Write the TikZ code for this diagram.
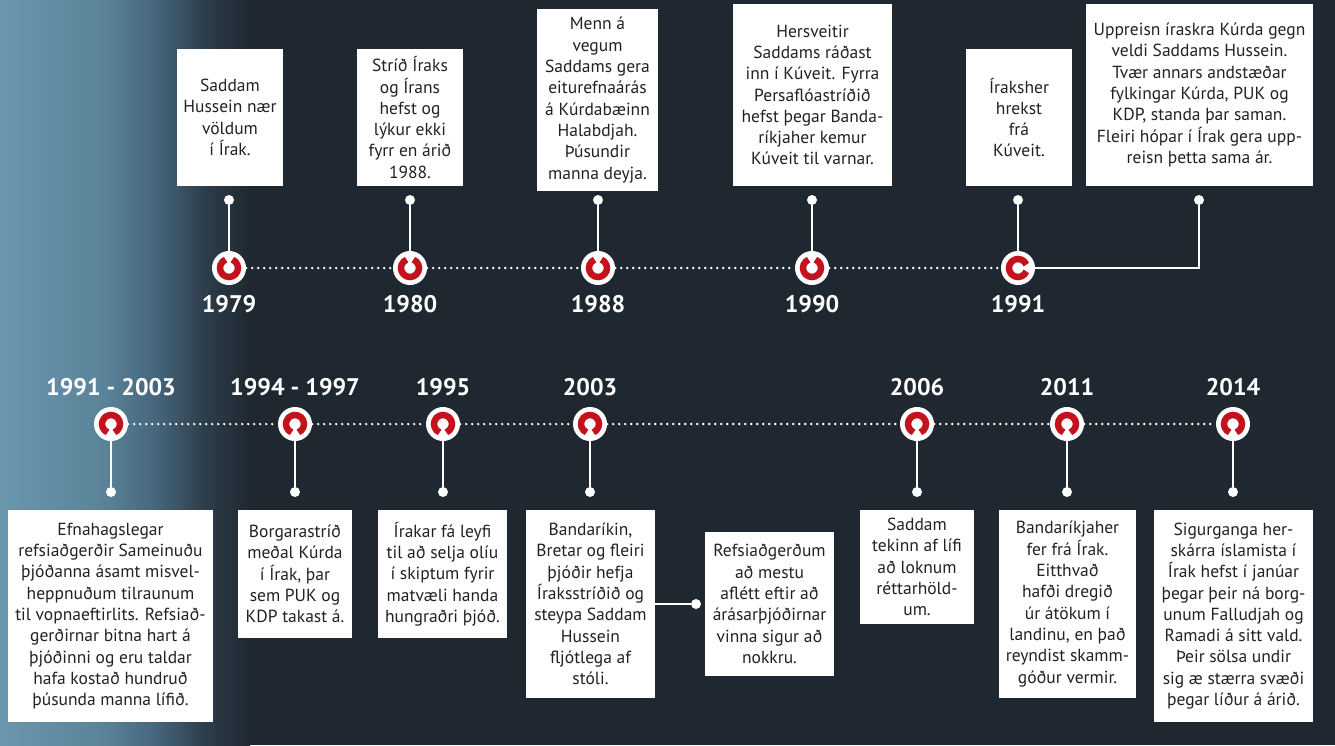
\documentclass[tikz,border=0pt]{standalone}
\usepackage{fontspec}
\setmainfont{PT Sans}
\usetikzlibrary{positioning}
\definecolor{bgnavy}{HTML}{1F2830}
\definecolor{glowblue}{HTML}{6A96AE}
\definecolor{glowtwo}{HTML}{5A8399}
\definecolor{glowmid}{HTML}{46667C}
\definecolor{glowdeep}{HTML}{2D3D4A}
\definecolor{ringred}{HTML}{C3111E}
\definecolor{boxtext}{HTML}{222222}
\pgfdeclarehorizontalshading{leftglow}{100bp}{color(0bp)=(glowblue); color(25bp)=(glowblue);
  color(46bp)=(glowtwo); color(56bp)=(glowmid); color(66bp)=(glowdeep);
  color(75bp)=(bgnavy); color(100bp)=(bgnavy)}
\tikzset{
  eventbox/.style={fill=white, text=boxtext, align=center, inner sep=2pt,
    font=\fontsize{17.5}{21.3}\selectfont},
  yearlabel/.style={text=white, font=\bfseries\fontsize{24}{26}\selectfont},
  knob/.style={circle, fill=white, minimum size=34pt, inner sep=0pt},
  stemdot/.style={circle, fill=white, minimum size=10pt, inner sep=0pt},
  stem/.style={white, line width=2.6pt},
  dotline/.style={white, line width=2.6pt, line cap=round, dash pattern=on 0pt off 6pt},
  redring/.style={ringred, line width=6.5pt}
}

\begin{document}
\begin{tikzpicture}[x=1pt,y=-1pt]
\fill[bgnavy] (0,0) rectangle (1335,745);
\shade[shading=leftglow] (0,0) rectangle (250,745);
\useasboundingbox (0,0) rectangle (1335,745);

% upper timeline
\foreach \nm/\xx in {m1979/229, m1980/410, m1988/598, m1990/812, m1991/1018}
  \node[knob] (\nm) at (\xx,268) {};
\foreach \a/\b in {m1979/m1980, m1980/m1988, m1988/m1990, m1990/m1991}
  \draw[dotline] (\a) -- (\b);
\foreach \nm/\xx in {1979/229, 1980/410, 1988/598, 1990/812, 1991/1018}{
  \node[stemdot] (p\nm) at (\xx,200) {};
  \draw[stem] (m\nm.center) -- (p\nm);
  \node[yearlabel] (y\nm) at (\xx,304) {\nm};
}
\node[stemdot] (p1991b) at (1199,200) {};
\draw[stem] (p1991b) |- (m1991.center);
\foreach \nm/\g in {m1979/270, m1980/270, m1988/270, m1990/270, m1991/0}
  \draw[redring] ([shift={(\g+22:9)}]\nm.center) arc[start angle=\g+22, end angle=\g+338, radius=9];

\node[eventbox, minimum width=106pt, minimum height=137pt] (b1979) at (230,117.5)
  {Saddam\\Hussein nær\\völdum\\í Írak.};
\node[eventbox, minimum width=106pt, minimum height=137pt] (b1980) at (410,117.5)
  {Stríð Íraks\\og Írans\\hefst og\\lýkur ekki\\fyrr en árið\\1988.};
\node[eventbox, minimum width=121pt, minimum height=182pt] (b1988) at (597.5,100)
  {Menn á\\vegum\\Saddams gera\\eiturefnaárás\\á Kúrdabæinn\\Halabdjah.\\Þúsundir\\manna deyja.};
\node[eventbox, minimum width=159pt, minimum height=182pt] (b1990) at (812.5,95)
  {Hersveitir\\Saddams ráðast\\inn í Kúveit. Fyrra\\Persaflóastríðið\\hefst þegar Banda-\\ríkjaher kemur\\Kúveit til varnar.};
\node[eventbox, minimum width=106pt, minimum height=137pt] (b1991) at (1019,117.5)
  {Íraksher\\hrekst\\frá\\Kúveit.};
\node[eventbox, minimum width=227pt, minimum height=182pt] (b1991b) at (1199.5,95)
  {Uppreisn íraskra Kúrda gegn\\veldi Saddams Hussein.\\Tvær annars andstæðar\\fylkingar Kúrda, PUK og\\KDP, standa þar saman.\\Fleiri hópar í Írak gera upp-\\reisn þetta sama ár.};

% lower timeline
\foreach \nm/\xx in {n1991/111, n1994/295, n1995/443, n2003/590, n2006/917, n2011/1067, n2014/1233}
  \node[knob] (\nm) at (\xx,424) {};
\foreach \a/\b in {n1991/n1994, n1994/n1995, n1995/n2003, n2003/n2006, n2006/n2011, n2011/n2014}
  \draw[dotline] (\a) -- (\b);
\foreach \nm/\xx/\yr in {1991/111/1991 - 2003, 1994/295/1994 - 1997, 1995/443/1995, 2003/590/2003, 2006/917/2006, 2011/1067/2011, 2014/1233/2014}{
  \node[stemdot] (q\nm) at (\xx,492) {};
  \draw[stem] (n\nm.center) -- (q\nm);
  \draw[redring] ([shift={(112:9)}]n\nm.center) arc[start angle=112, end angle=428, radius=9];
  \node[yearlabel] (z\nm) at (\xx,387) {\yr};
}

\node[eventbox, minimum width=205pt, minimum height=212pt] (c1991) at (110.5,616)
  {Efnahagslegar\\refsiaðgerðir Sameinuðu\\þjóðanna ásamt misvel-\\heppnuðum tilraunum\\til vopnaeftirlits. Refsiað-\\gerðirnar bitna hart á\\þjóðinni og eru taldar\\hafa kostað hundruð\\þúsunda manna lífið.};
\node[eventbox, minimum width=114pt, minimum height=128pt] (c1994) at (295,574)
  {Borgarastríð\\meðal Kúrda\\í Írak, þar\\sem PUK og\\KDP takast á.};
\node[eventbox, minimum width=129pt, minimum height=128pt] (c1995) at (442.5,574)
  {Írakar fá leyfi\\til að selja olíu\\í skiptum fyrir\\matvæli handa\\hungraðri þjóð.};
\node[eventbox, minimum width=129pt, minimum height=188pt] (c2003) at (590.5,604)
  {Bandaríkin,\\Bretar og fleiri\\þjóðir hefja\\Íraksstríðið og\\steypa Saddam\\Hussein\\fljótlega af\\stóli.};
\node[eventbox, minimum width=129pt, minimum height=144pt] (c2003b) at (769.5,604)
  {Refsiaðgerðum\\að mestu\\aflétt eftir að\\árásarþjóðirnar\\vinna sigur að\\nokkru.};
\node[stemdot] (q2003b) at (696,604) {};
\draw[stem] (c2003) -- (q2003b);
\node[eventbox, minimum width=114pt, minimum height=114pt] (c2006) at (917,567)
  {Saddam\\tekinn af lífi\\að loknum\\réttarhöld-\\um.};
\node[eventbox, minimum width=137pt, minimum height=188pt] (c2011) at (1067.5,604)
  {Bandaríkjaher\\fer frá Írak.\\Eitthvað\\hafði dregið\\úr átökum í\\landinu, en það\\reyndist skamm-\\góður vermir.};
\node[eventbox, minimum width=159pt, minimum height=212pt] (c2014) at (1233.5,616)
  {Sigurganga her-\\skárra íslamista í\\Írak hefst í janúar\\þegar þeir ná borg-\\unum Falludjah og\\Ramadi á sitt vald.\\Þeir sölsa undir\\sig æ stærra svæði\\þegar líður á árið.};
\end{tikzpicture}
\end{document}
